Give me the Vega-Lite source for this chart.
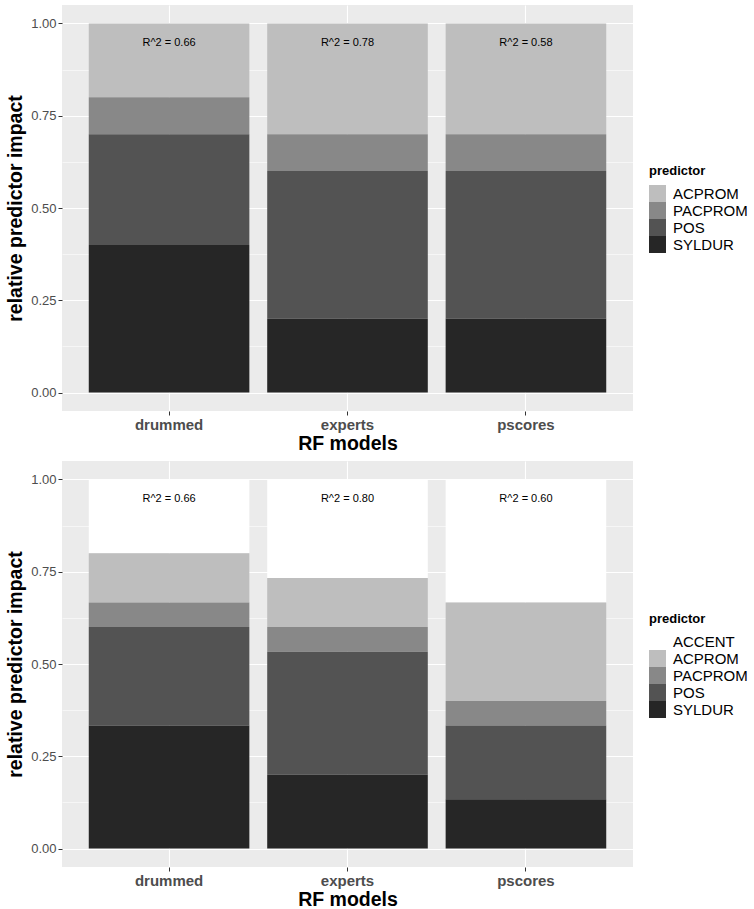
{
  "$schema": "https://vega.github.io/schema/vega-lite/v6.json",
  "padding": {"left": 5, "top": 5, "right": 0, "bottom": 0},
  "background": "white",
  "spacing": 8,
  "config": {
    "font": "Liberation Sans",
    "view": {"fill": "#EBEBEB", "stroke": null},
    "axis": {
      "domain": false,
      "grid": true,
      "gridColor": "white",
      "tickColor": "#333333",
      "tickSize": 4,
      "labelColor": "#4D4D4D",
      "labelFont": "Liberation Sans",
      "titleColor": "black",
      "titleFont": "Liberation Sans",
      "titleFontWeight": "bold",
      "titleFontSize": 19.5
    },
    "legend": {
      "orient": "none",
      "titleFont": "Liberation Sans",
      "titleFontSize": 13,
      "titleFontWeight": "bold",
      "titleColor": "black",
      "titlePadding": 7,
      "labelFont": "Liberation Sans",
      "labelFontSize": 15,
      "labelColor": "black",
      "labelOffset": 7,
      "symbolType": "square",
      "symbolSize": 289,
      "symbolStrokeWidth": 0,
      "rowPadding": 0,
      "padding": 0
    }
  },
  "datasets": {
    "top": [
      {"model": "drummed", "predictor": "ACPROM", "impact": 0.2},
      {"model": "drummed", "predictor": "PACPROM", "impact": 0.1},
      {"model": "drummed", "predictor": "POS", "impact": 0.3},
      {"model": "drummed", "predictor": "SYLDUR", "impact": 0.4},
      {"model": "experts", "predictor": "ACPROM", "impact": 0.3},
      {"model": "experts", "predictor": "PACPROM", "impact": 0.1},
      {"model": "experts", "predictor": "POS", "impact": 0.4},
      {"model": "experts", "predictor": "SYLDUR", "impact": 0.2},
      {"model": "pscores", "predictor": "ACPROM", "impact": 0.3},
      {"model": "pscores", "predictor": "PACPROM", "impact": 0.1},
      {"model": "pscores", "predictor": "POS", "impact": 0.4},
      {"model": "pscores", "predictor": "SYLDUR", "impact": 0.2}
    ],
    "topR2": [
      {"model": "drummed", "label": "R^2 = 0.66"},
      {"model": "experts", "label": "R^2 = 0.78"},
      {"model": "pscores", "label": "R^2 = 0.58"}
    ],
    "bottom": [
      {"model": "drummed", "predictor": "ACCENT", "impact": 0.2},
      {"model": "drummed", "predictor": "ACPROM", "impact": 0.1333},
      {"model": "drummed", "predictor": "PACPROM", "impact": 0.0667},
      {"model": "drummed", "predictor": "POS", "impact": 0.2667},
      {"model": "drummed", "predictor": "SYLDUR", "impact": 0.3333},
      {"model": "experts", "predictor": "ACCENT", "impact": 0.2667},
      {"model": "experts", "predictor": "ACPROM", "impact": 0.1333},
      {"model": "experts", "predictor": "PACPROM", "impact": 0.0667},
      {"model": "experts", "predictor": "POS", "impact": 0.3333},
      {"model": "experts", "predictor": "SYLDUR", "impact": 0.2},
      {"model": "pscores", "predictor": "ACCENT", "impact": 0.3333},
      {"model": "pscores", "predictor": "ACPROM", "impact": 0.2667},
      {"model": "pscores", "predictor": "PACPROM", "impact": 0.0667},
      {"model": "pscores", "predictor": "POS", "impact": 0.2},
      {"model": "pscores", "predictor": "SYLDUR", "impact": 0.1333}
    ],
    "bottomR2": [
      {"model": "drummed", "label": "R^2 = 0.66"},
      {"model": "experts", "label": "R^2 = 0.80"},
      {"model": "pscores", "label": "R^2 = 0.60"}
    ]
  },
  "resolve": {"scale": {"color": "independent"}},
  "vconcat": [
    {
      "width": 571,
      "height": 406,
      "layer": [
        {
          "data": {"name": "top"},
          "mark": {"type": "bar"},
          "encoding": {
            "x": {
              "field": "model", "type": "nominal", "title": "RF models",
              "scale": {"paddingInner": 0.1, "paddingOuter": 0.15},
              "axis": {"labelAngle": 0, "labelFontSize": 15, "labelFontWeight": "bold", "labelPadding": 2, "titlePadding": 2, "bandPosition": 0.5, "gridWidth": 1.1}
            },
            "y": {
              "field": "impact", "type": "quantitative", "stack": "zero", "title": "relative predictor impact",
              "scale": {"domain": [-0.05, 1.05], "nice": false, "zero": false},
              "axis": {
                "values": [0, 0.125, 0.25, 0.375, 0.5, 0.625, 0.75, 0.875, 1],
                "labelExpr": "(datum.value * 4) % 1 === 0 ? format(datum.value, '.2f') : ''",
                "labelFontSize": 13, "labelPadding": 2, "titlePadding": 5,
                "gridWidth": {"condition": {"test": "(datum.value * 4) % 1 === 0", "value": 1.1}, "value": 0.55},
                "tickOpacity": {"condition": {"test": "(datum.value * 4) % 1 === 0", "value": 1}, "value": 0}
              }
            },
            "color": {
              "field": "predictor", "type": "nominal", "title": "predictor",
              "scale": {"domain": ["ACPROM", "PACPROM", "POS", "SYLDUR"], "range": ["#BEBEBE", "#888888", "#535353", "#262626"]},
              "legend": {"legendX": 587, "legendY": 160}
            },
            "order": {"field": "predictor", "sort": "descending"}
          }
        },
        {
          "data": {"name": "topR2"},
          "mark": {"type": "text", "fontSize": 11, "color": "black", "font": "Liberation Sans", "dy": 1},
          "encoding": {
            "x": {"field": "model", "type": "nominal", "title": "RF models"},
            "y": {"datum": 0.95, "type": "quantitative", "title": "relative predictor impact"},
            "text": {"field": "label"}
          }
        }
      ]
    },
    {
      "width": 571,
      "height": 406,
      "layer": [
        {
          "data": {"name": "bottom"},
          "mark": {"type": "bar"},
          "encoding": {
            "x": {
              "field": "model", "type": "nominal", "title": "RF models",
              "scale": {"paddingInner": 0.1, "paddingOuter": 0.15},
              "axis": {"labelAngle": 0, "labelFontSize": 15, "labelFontWeight": "bold", "labelPadding": 2, "titlePadding": 2, "bandPosition": 0.5, "gridWidth": 1.1}
            },
            "y": {
              "field": "impact", "type": "quantitative", "stack": "zero", "title": "relative predictor impact",
              "scale": {"domain": [-0.05, 1.05], "nice": false, "zero": false},
              "axis": {
                "values": [0, 0.125, 0.25, 0.375, 0.5, 0.625, 0.75, 0.875, 1],
                "labelExpr": "(datum.value * 4) % 1 === 0 ? format(datum.value, '.2f') : ''",
                "labelFontSize": 13, "labelPadding": 2, "titlePadding": 5,
                "gridWidth": {"condition": {"test": "(datum.value * 4) % 1 === 0", "value": 1.1}, "value": 0.55},
                "tickOpacity": {"condition": {"test": "(datum.value * 4) % 1 === 0", "value": 1}, "value": 0}
              }
            },
            "color": {
              "field": "predictor", "type": "nominal", "title": "predictor",
              "scale": {"domain": ["ACCENT", "ACPROM", "PACPROM", "POS", "SYLDUR"], "range": ["#FFFFFF", "#BEBEBE", "#888888", "#535353", "#262626"]},
              "legend": {"legendX": 587, "legendY": 152}
            },
            "order": {"field": "predictor", "sort": "descending"}
          }
        },
        {
          "data": {"name": "bottomR2"},
          "mark": {"type": "text", "fontSize": 11, "color": "black", "font": "Liberation Sans", "dy": 1},
          "encoding": {
            "x": {"field": "model", "type": "nominal", "title": "RF models"},
            "y": {"datum": 0.95, "type": "quantitative", "title": "relative predictor impact"},
            "text": {"field": "label"}
          }
        }
      ]
    }
  ]
}
